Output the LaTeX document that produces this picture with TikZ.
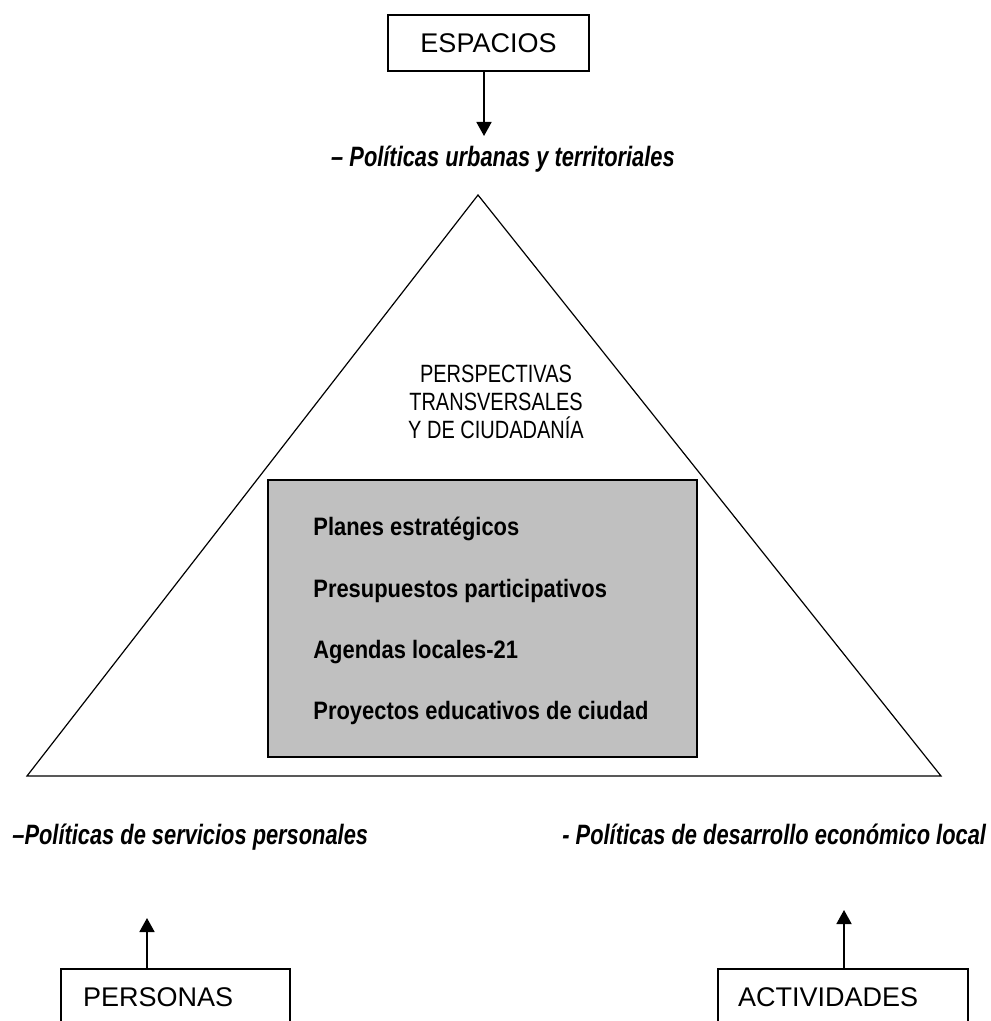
\documentclass[tikz,border=0pt]{standalone}
\usepackage{fontspec}
\setmainfont{Liberation Sans}
\newfontfamily\estrecha[FakeStretch=0.8]{Liberation Sans}
\newfontfamily\negrita[FakeStretch=0.87]{Liberation Sans}
\newfontfamily\cursiva[FakeStretch=0.78]{Liberation Sans}
\usetikzlibrary{arrows.meta}
\definecolor{gris}{HTML}{C0C0C0}
\tikzset{
  caja/.style={draw,line width=1pt,inner sep=0pt,font=\fontsize{13.5}{16}\selectfont},
  politica/.style={inner sep=0pt,font=\cursiva\bfseries\itshape\fontsize{14}{16}\selectfont},
  tema/.style={anchor=base west,inner sep=0pt,font=\negrita\bfseries\fontsize{12.6}{15}\selectfont},
  flecha/.style={-{Triangle[width=7.5pt,length=7pt]},line width=0.9pt}
}
\begin{document}
\begin{tikzpicture}[x=0.5pt,y=-0.5pt]
    \useasboundingbox (0,0) rectangle (990,1021);
    \clip (0,0) rectangle (990,1021);
    \draw[line width=0.6pt] (478,195) -- (941,776) -- (27,776) -- cycle;
    \node[draw,fill=gris,line width=1pt,inner sep=0pt,minimum width=214.5pt,minimum height=138.5pt]
      (bloque) at (482.5,618.5) {};
    \foreach \y/\t/\n in {535/Planes estratégicos/planes, 597/Presupuestos participativos/presupuestos,
      658/Agendas locales-21/agendas, 719/Proyectos educativos de ciudad/proyectos} {
      \node[tema] (\n) at (313,\y) {\t};
    }
    \node[align=center,inner sep=0pt,font=\estrecha\fontsize{12.5}{14}\selectfont]
      (perspectivas) at (496,402) {PERSPECTIVAS\\TRANSVERSALES\\Y DE CIUDADANÍA};
    \node[caja,minimum width=100.5pt,minimum height=28pt] (espacios) at (488.5,43) {ESPACIOS};
    \node[caja,anchor=north west,align=left,text width=92.5pt,inner xsep=11pt,inner ysep=8.5pt,
      text height=10pt,text depth=40pt] (personas) at (60,968) {PERSONAS};
    \node[caja,anchor=north west,align=left,text width=105pt,inner xsep=10pt,inner ysep=8.5pt,
      text height=10pt,text depth=40pt] (actividades) at (717,968) {ACTIVIDADES};
    \node[politica,anchor=base] (urbanas) at (503,167) {– Políticas urbanas y territoriales};
    \node[politica,anchor=base west] (servicios) at (12,844) {–Políticas de servicios personales};
    \node[politica,anchor=base west] (desarrollo) at (562,844) {- Políticas de desarrollo económico local};
    \coordinate (puntaE) at (484,136);
    \coordinate (puntaP) at (147,918);
    \coordinate (puntaA) at (844,910);
    \draw[flecha] (puntaE |- espacios.south) -- (puntaE);
    \draw[flecha] (puntaP |- personas.north) -- (puntaP);
    \draw[flecha] (puntaA |- actividades.north) -- (puntaA);
  \end{tikzpicture}
\end{document}
